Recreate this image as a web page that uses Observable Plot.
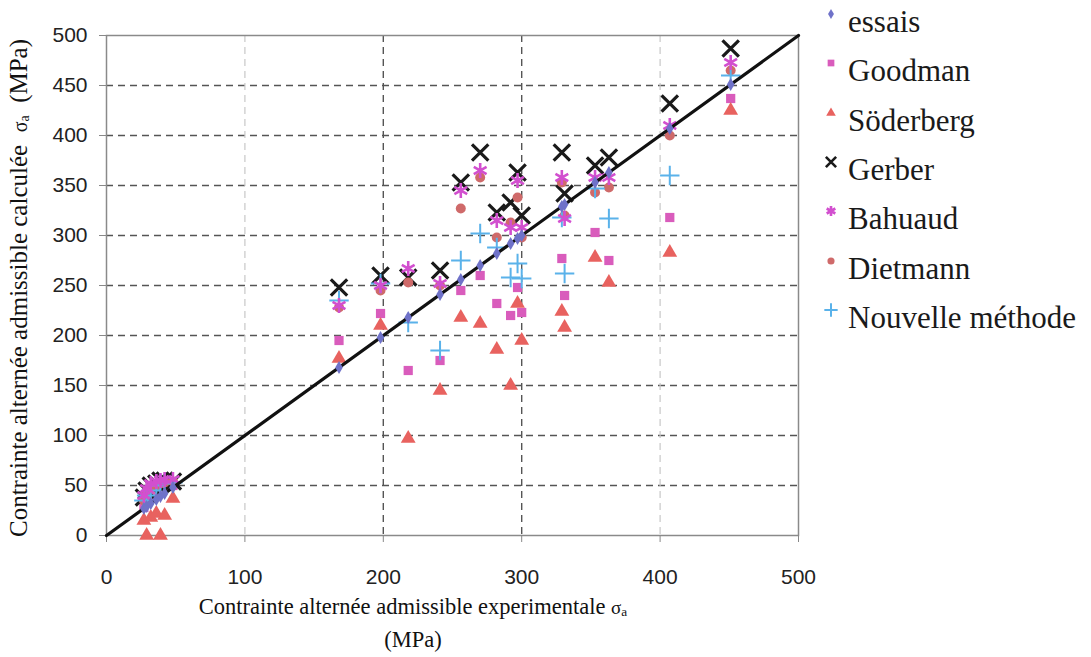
<!DOCTYPE html>
<html>
<head>
<meta charset="utf-8">
<script src="https://cdn.jsdelivr.net/npm/d3@7"></script>
<script src="https://cdn.jsdelivr.net/npm/@observablehq/plot@0.6"></script>
<style>
  body { margin: 0; background: #fff; }
  #wrap { position: relative; width: 1091px; height: 657px; overflow: hidden; }
  #chart { position: absolute; left: 0; top: 0; }
  .serif { font-family: "Liberation Serif", "DejaVu Serif", serif; color: #111; position: absolute; white-space: nowrap; }
  .legend-item { position: absolute; left: 818px; height: 40px; display: flex; align-items: center; }
  .legend-item svg { width: 26px; height: 40px; }
  sub { font-size: 0.7em; vertical-align: -0.15em; }
</style>
</head>
<body>
<div id="wrap">
  <div id="chart"></div>
  <div class="serif" id="ytitle" style="left:19px; top:288px; font-size:25px; transform: translate(-50%,-50%) rotate(-90deg);">Contrainte alternée admissible calculée&nbsp;&nbsp;<span style="font-size:20px">σ<sub>a</sub></span>&nbsp;&nbsp;(MPa)</div>
  <div class="serif" style="left:413px; top:607px; font-size:22.5px; transform: translate(-50%,-50%);">Contrainte alternée admissible experimentale <span style="font-size:19px">σ<sub>a</sub></span></div>
  <div class="serif" style="left:413px; top:640px; font-size:22.5px; transform: translate(-50%,-50%);">(MPa)</div>
  <div id="legend"></div>
</div>
<script>
// ---- Data (MPa) ----
const experimental = [27, 29, 32, 36, 39, 42, 48, 168, 198, 218, 241, 256, 270, 282, 292, 297, 300, 329, 331, 353, 363, 407, 451];
const essais      = [27, 29, 32, 36, 39, 42, 48, 168, 198, 218, 241, 256, 270, 282, 292, 297, 300, 329, 331, 353, 363, 407, 451];
const goodman     = [28, 35, 40, 44, 47, 50, 50, 195, 222, 165, 175, 245, 260, 232, 220, 248, 223, 277, 240, 303, 275, 318, 437];
const soderberg   = [15, 0, 18, 22, 0, 20, 37, 177, 210, 97, 145, 218, 212, 186, 150, 232, 195, 224, 208, 278, 253, 283, 425];
const gerber      = [38, 45, 50, 52, 55, 55, 54, 248, 260, 258, 265, 353, 383, 323, 333, 363, 320, 383, 342, 370, 378, 432, 487];
const bahuaud     = [40, 47, 52, 54, 55, 56, 56, 230, 250, 267, 252, 345, 365, 315, 308, 355, 308, 358, 317, 358, 358, 410, 473];
const dietmann    = [35, 43, 48, 50, 52, 53, 54, 228, 245, 253, 250, 327, 358, 298, 313, 338, 298, 353, 320, 343, 348, 400, 465];
const nouvelle    = [35, 40, 45, 50, 52, 53, 53, 235, 252, 213, 185, 275, 302, 288, 258, 272, 257, 318, 262, 347, 317, 360, 460];

const seriesNames = ["essais", "Goodman", "Söderberg", "Gerber", "Bahuaud", "Dietmann", "Nouvelle méthode"];
const xTicks = [0, 100, 200, 300, 400, 500];
const yTicks = [0, 50, 100, 150, 200, 250, 300, 350, 400, 450, 500];
const hGrid = [50, 100, 150, 200, 250, 300, 350, 400, 450];
const vGridLight = [100, 400];
const vGridDark = [200, 300];
const diagonal = [0, 500];

// ---- Styles ----
const styles = {
  "essais":           {values: essais,    symbol: "diamond",  color: "#6f72c9", r: 4,   filled: true},
  "Goodman":          {values: goodman,   symbol: "square",   color: "#d95cbc", r: 5.2, filled: true},
  "Söderberg":        {values: soderberg, symbol: "triangle", color: "#e8625f", r: 5.5, filled: true},
  "Gerber":           {values: gerber,    symbol: "times",    color: "#1a1a1a", r: 7.5, filled: false, sw: 3.2},
  "Bahuaud":          {values: bahuaud,   symbol: "asterisk", color: "#d24fcf", r: 7,   filled: false, sw: 2.6},
  "Dietmann":         {values: dietmann,  symbol: "circle",   color: "#cf6a6a", r: 5,   filled: true},
  "Nouvelle méthode": {values: nouvelle,  symbol: "plus",     color: "#5ab2ea", r: 6.3, filled: false, sw: 2}
};

function rows(name) {
  return experimental.map((x, i) => ({x, y: styles[name].values[i], s: name}));
}
function dotMark(name) {
  const st = styles[name];
  const opts = {x: "x", y: "y", symbol: st.symbol, r: st.r};
  if (st.filled) { opts.fill = st.color; opts.stroke = "none"; }
  else { opts.stroke = st.color; opts.strokeWidth = st.sw; opts.fill = "none"; }
  return Plot.dot(rows(name), opts);
}

const drawOrder = ["Goodman", "Söderberg", "Gerber", "Dietmann", "Nouvelle méthode", "Bahuaud"];

const chart = Plot.plot({
  width: 820,
  height: 600,
  marginLeft: 106,
  marginRight: 22,
  marginTop: 35,
  marginBottom: 65,
  x: {domain: [0, 500]},
  y: {domain: [0, 500]},
  style: {fontFamily: "'Liberation Sans', Arial, sans-serif", fontSize: "21px", color: "#222", background: "white"},
  marks: [
    Plot.ruleY(hGrid, {stroke: "#555", strokeWidth: 1.4, strokeDasharray: "7,5"}),
    Plot.ruleX(vGridLight, {stroke: "#c8c8c8", strokeWidth: 1.2, strokeDasharray: "7,5"}),
    Plot.ruleX(vGridDark, {stroke: "#555", strokeWidth: 1.4, strokeDasharray: "7,5"}),
    Plot.frame({stroke: "#8a8a8a", strokeWidth: 1.5}),
    Plot.axisX({ticks: xTicks, tickSize: 7, tickPadding: 27, stroke: "#888", label: null, fontSize: 21, fill: "#222"}),
    Plot.axisY({ticks: yTicks, tickSize: 7, tickPadding: 12, stroke: "#888", label: null, fontSize: 21, fill: "#222"}),
    ...drawOrder.map(dotMark),
    Plot.line(diagonal.map(v => ({x: v, y: v})), {x: "x", y: "y", stroke: "#111", strokeWidth: 3.2}),
    dotMark("essais")
  ]
});
document.getElementById("chart").appendChild(chart);

// ---- Legend ----
const symMap = {
  diamond: d3.symbolDiamond, square: d3.symbolSquare, triangle: d3.symbolTriangle,
  times: d3.symbolTimes, asterisk: d3.symbolAsterisk, circle: d3.symbolCircle, plus: d3.symbolPlus
};
const legendSizes = {"essais": 30, "Goodman": 45, "Söderberg": 40, "Gerber": 70, "Bahuaud": 70, "Dietmann": 40, "Nouvelle méthode": 60};
const legend = document.getElementById("legend");
seriesNames.forEach((name, i) => {
  const st = styles[name];
  const item = document.createElement("div");
  item.className = "legend-item";
  item.style.top = (2 + i * 49.3) + "px";
  const path = d3.symbol(symMap[st.symbol], legendSizes[name])();
  const paint = st.filled ? `fill="${st.color}"` : `fill="none" stroke="${st.color}" stroke-width="${Math.min(st.sw, 2.6)}"`;
  item.innerHTML = `<svg viewBox="0 0 26 40"><path d="${path}" transform="translate(13,12)" ${paint}/></svg>` +
    `<span style="font-family:'Liberation Serif','DejaVu Serif',serif;font-size:31px;color:#1a1a1a;margin-left:4px;">${name}</span>`;
  legend.appendChild(item);
});
</script>
</body>
</html>
